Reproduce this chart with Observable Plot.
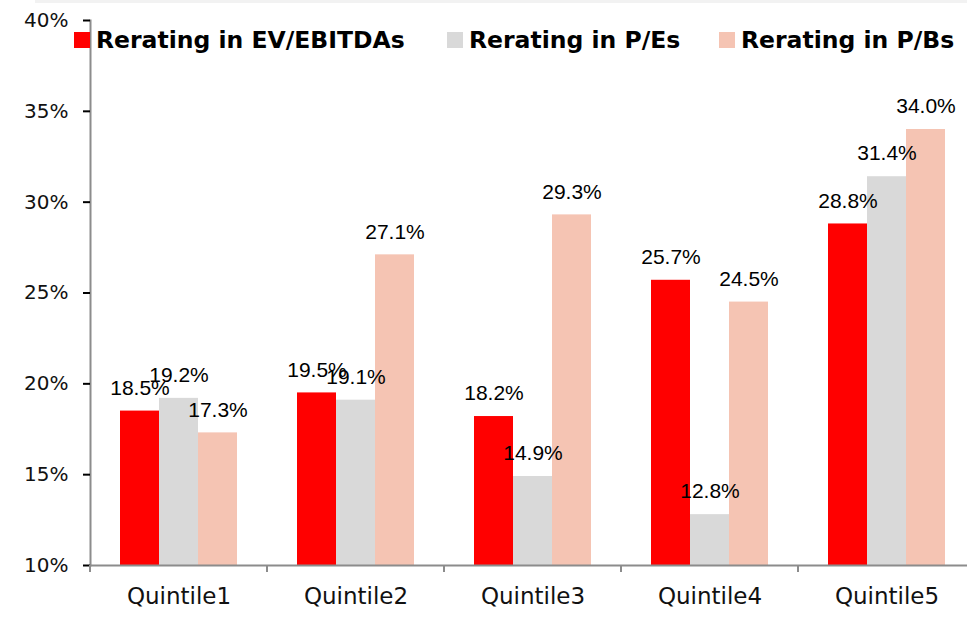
<!DOCTYPE html>
<html><head><meta charset="utf-8">
<script src="https://cdn.jsdelivr.net/npm/d3@7"></script>
<script src="https://cdn.jsdelivr.net/npm/@observablehq/plot@0.6"></script>
<style>
html,body{margin:0;padding:0;background:#fff;overflow:hidden}
#wrap{position:relative;width:967px;height:620px}
#strip{position:absolute;left:35px;right:0;top:0;height:3px;background:#f2f2f2}
.leg{position:absolute;top:28px;height:24px;line-height:24px;display:flex;align-items:center;font-family:"DejaVu Sans",sans-serif;font-weight:700;font-size:23.5px;color:#000;white-space:nowrap}
.leg .sw{width:16px;height:16px;margin-right:6px;display:inline-block}
</style></head>
<body><div id="wrap"><div id="strip"></div><div id="chart"></div><div id="legend"></div></div>
<script>
const quintiles = ["Quintile1","Quintile2","Quintile3","Quintile4","Quintile5"];
const series = ["Rerating in EV/EBITDAs","Rerating in P/Es","Rerating in P/Bs"];
const evEbitda = [18.5,19.5,18.2,25.7,28.8];
const pe = [19.2,19.1,14.9,12.8,31.4];
const pb = [17.3,27.1,29.3,24.5,34.0];
const yTicks = [10,15,20,25,30,35,40];
const colors = ["#ff0000","#d9d9d9","#f5c4b3"];

const values = [evEbitda, pe, pb];
const rows = [];
quintiles.forEach((q,i)=>series.forEach((s,j)=>rows.push({q, s, v: values[j][i]})));
const base = yTicks[0];

const plot = Plot.plot({
  width: 967, height: 620,
  marginLeft: 88, marginRight: -9, marginTop: 20, marginBottom: 55,
  style: {background:"transparent", overflow:"visible"},
  fx: {domain: quintiles, padding: 0, label: null},
  x: {domain: series, paddingInner: 0, paddingOuter: 0.735, axis: null},
  y: {domain: [yTicks[0], yTicks[yTicks.length-1]], label: null},
  color: {domain: series, range: colors},
  marks: [
    Plot.barY(rows, {fx:"q", x:"s", y1: d => base, y2:"v", fill:"s"}),
    Plot.text(rows, {fx:"q", x:"s", y:"v", text: d => d.v.toFixed(1)+"%", dy:-23, fontSize:21, fontFamily:"Liberation Sans, Arial, sans-serif", fill:"#000"}),
    Plot.ruleY([base], {stroke:"#8c8c8c", strokeWidth:2}),
    Plot.frame({anchor:"left", facetAnchor:"left", stroke:"#8c8c8c", strokeWidth:2}),
    Plot.axisY({ticks: yTicks, tickFormat: d => d+"%", tickSize:7, tickPadding:15, fontSize:20, fontFamily:"DejaVu Sans, sans-serif", fill:"#111"}),
    Plot.axisFx({anchor:"bottom", tickSize:0, tickPadding:22, fontSize:23, fontFamily:"DejaVu Sans, sans-serif", label:null, fill:"#111"})
  ]
});
document.getElementById("chart").appendChild(plot);

const svg = d3.select(plot);
svg.selectAll('[aria-label="y-axis tick"]').attr("stroke","#8c8c8c").attr("stroke-width",2);
const fx = plot.scale("fx"), y = plot.scale("y");
const y0 = y.apply(base);
const bounds = quintiles.map(q => fx.apply(q));
bounds.push(fx.apply(quintiles[quintiles.length-1]) + fx.bandwidth);
svg.append("g").selectAll("line").data(bounds).join("line")
  .attr("x1", d=>d).attr("x2", d=>d).attr("y1", y0).attr("y2", y0+7)
  .attr("stroke","#8c8c8c").attr("stroke-width",2);

const legLeft = [74, 447, 719];
const leg = d3.select("#legend");
series.forEach((s,i)=>{
  const item = leg.append("div").attr("class","leg").style("left", legLeft[i]+"px");
  item.append("span").attr("class","sw").style("background", colors[i]);
  item.append("span").text(s);
});
</script>
</body></html>
